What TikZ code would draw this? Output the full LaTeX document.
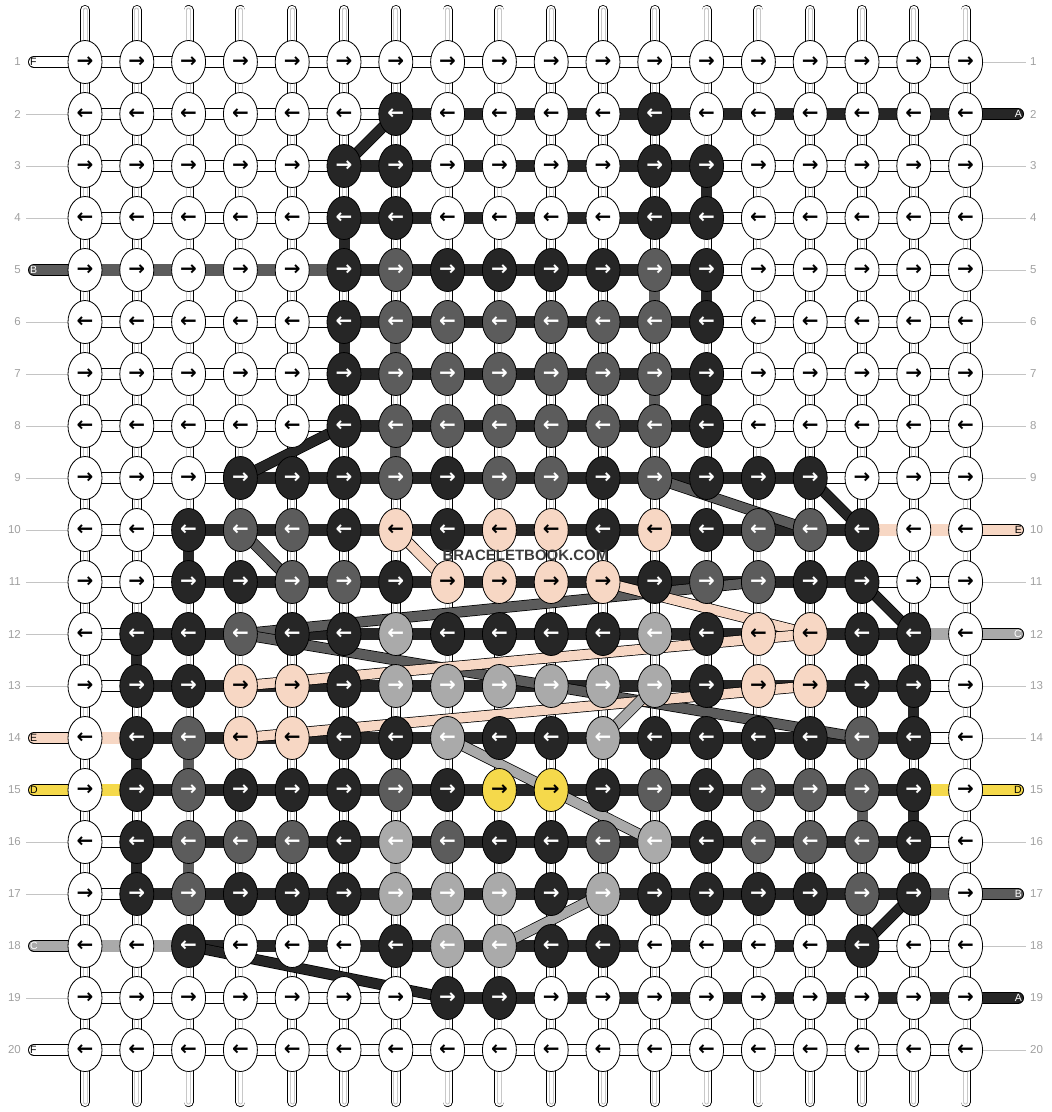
\documentclass[tikz,border=0pt]{standalone}
\usepackage{fontspec}
\setmainfont{Liberation Sans}
\newfontfamily\arrowfont{DejaVu Sans}
\usetikzlibrary{shapes.geometric}

\definecolor{colW}{HTML}{FFFFFF}
\definecolor{colK}{HTML}{262626}
\definecolor{colG}{HTML}{5C5C5C}
\definecolor{colL}{HTML}{AAAAAA}
\definecolor{colP}{HTML}{F7D7C4}
\definecolor{colY}{HTML}{F5D94B}
\definecolor{rownum}{HTML}{A0A0A0}
\definecolor{rowline}{HTML}{C4C4C4}
\definecolor{strandline}{HTML}{C8C8C8}
\definecolor{wmark}{HTML}{3C3C3C}

\pgfdeclarelayer{tubes}
\pgfdeclarelayer{bars}
\pgfsetlayers{tubes,bars,main}

\begin{document}
\begin{tikzpicture}[x=1pt, y=-1pt]

\tikzstyle{knot}=[draw, ellipse, line width=0.8pt, inner sep=0pt, minimum width=34pt, minimum height=43pt, font=\arrowfont\bfseries\fontsize{20}{20}\selectfont];
\tikzstyle{knotW}=[knot, fill=colW, text=black];
\tikzstyle{knotK}=[knot, fill=colK, text=white];
\tikzstyle{knotG}=[knot, fill=colG, text=white];
\tikzstyle{knotL}=[knot, fill=colL, text=white];
\tikzstyle{knotP}=[knot, fill=colP, text=black];
\tikzstyle{knotY}=[knot, fill=colY, text=black];
\tikzstyle{strand}=[line width=10pt, line cap=round, draw=black, postaction={draw=white, line width=8.4pt}, postaction={draw=strandline, line width=5pt}, postaction={draw=white, line width=3pt}];
\tikzstyle{rowtube}=[line width=12pt, draw=black, postaction={draw=white, line width=10.4pt}];
\tikzstyle{endtube}=[line width=12pt, line cap=round, draw=black];
\tikzstyle{bar}=[line width=11.5pt];
\tikzstyle{vbar}=[line width=11pt];
\tikzstyle{link}=[line width=9.5pt, preaction={draw=black, line width=11pt}];
\tikzstyle{rowno}=[text=rownum, font=\fontsize{11.5}{12}\selectfont, inner sep=0pt];
\tikzstyle{rowln}=[draw=rowline, line width=0.8pt];
\tikzstyle{endlabel}=[font=\fontsize{10.5}{11}\selectfont, inner sep=0pt];

\useasboundingbox (0,0) rectangle (1052,1112);

% knots, row by row
\foreach \r/\cols in {
  1/{W,W,W,W,W,W,W,W,W,W,W,W,W,W,W,W,W,W},
  2/{W,W,W,W,W,W,K,W,W,W,W,K,W,W,W,W,W,W},
  3/{W,W,W,W,W,K,K,W,W,W,W,K,K,W,W,W,W,W},
  4/{W,W,W,W,W,K,K,W,W,W,W,K,K,W,W,W,W,W},
  5/{W,W,W,W,W,K,G,K,K,K,K,G,K,W,W,W,W,W},
  6/{W,W,W,W,W,K,G,G,G,G,G,G,K,W,W,W,W,W},
  7/{W,W,W,W,W,K,G,G,G,G,G,G,K,W,W,W,W,W},
  8/{W,W,W,W,W,K,G,G,G,G,G,G,K,W,W,W,W,W},
  9/{W,W,W,K,K,K,G,K,G,G,K,G,K,K,K,W,W,W},
  10/{W,W,K,G,G,K,P,K,P,P,K,P,K,G,G,K,W,W},
  11/{W,W,K,K,G,G,K,P,P,P,P,K,G,G,K,K,W,W},
  12/{W,K,K,G,K,K,L,K,K,K,K,L,K,P,P,K,K,W},
  13/{W,K,K,P,P,K,L,L,L,L,L,L,K,P,P,K,K,W},
  14/{W,K,G,P,P,K,K,L,K,K,L,K,K,K,K,G,K,W},
  15/{W,K,G,K,K,K,G,K,Y,Y,K,G,K,G,G,G,K,W},
  16/{W,K,G,G,G,K,L,G,K,K,G,L,K,G,G,G,K,W},
  17/{W,K,G,K,K,K,L,L,L,K,L,K,K,K,K,G,K,W},
  18/{W,W,K,W,W,W,K,L,L,K,K,W,W,W,W,K,W,W},
  19/{W,W,W,W,W,W,W,K,K,W,W,W,W,W,W,W,W,W},
  20/{W,W,W,W,W,W,W,W,W,W,W,W,W,W,W,W,W,W}}{
  \foreach \kc [count=\c] in \cols {
    \ifodd\r \def\arr{→}\else \def\arr{←}\fi
    \node[knot\kc] (k-\r-\c) at ({85+(\c-1)*51.8}, {62+(\r-1)*52}) {\arr};
  }
}

\begin{pgfonlayer}{tubes}
% vertical strands
\foreach \c in {1,...,18} {
  \coordinate (top-\c) at ({85+(\c-1)*51.8}, 10);
  \coordinate (bot-\c) at ({85+(\c-1)*51.8}, 1102);
  \draw[strand] (top-\c) -- (bot-\c);
}
% white row threads
\foreach \r in {1,...,20}
  \draw[rowtube] (k-\r-1.center) -- (k-\r-18.center);
% thread ends, left
\foreach \r/\cl/\lb/\tc in {1/W/F/black, 5/G/B/white, 14/P/E/black, 15/Y/D/black, 18/L/C/white, 20/W/F/black} {
  \coordinate (lft-\r) at (34, {62+(\r-1)*52});
  \draw[endtube, postaction={draw=col\cl, line width=10.4pt}] (lft-\r) -- (k-\r-1.center);
  \node[endlabel, text=\tc, anchor=west] (lb-l-\r) at (30, {62+(\r-1)*52}) {\lb};
}
% thread ends, right
\foreach \r/\cl/\lb/\tc in {2/K/A/white, 10/P/E/black, 12/L/C/white, 15/Y/D/black, 17/G/B/white, 19/K/A/white} {
  \coordinate (rgt-\r) at (1018, {62+(\r-1)*52});
  \draw[endtube, postaction={draw=col\cl, line width=10.4pt}] (k-\r-18.center) -- (rgt-\r);
  \node[endlabel, text=\tc, anchor=east] (lb-r-\r) at (1022, {62+(\r-1)*52}) {\lb};
}
% row guide lines
\foreach \r in {2,3,4,6,7,8,9,10,11,12,13,16,17,19} {
  \coordinate (lln-\r) at (26, {62+(\r-1)*52});
  \draw[rowln] (lln-\r) -- (k-\r-1.center);
}
\foreach \r in {1,3,4,5,6,7,8,9,11,13,14,16,18,20} {
  \coordinate (rln-\r) at (1026, {62+(\r-1)*52});
  \draw[rowln] (k-\r-18.center) -- (rln-\r);
}
\end{pgfonlayer}

\begin{pgfonlayer}{bars}
% coloured runs along the rows
\foreach \r/\a/\b/\cl in {2/7/18/K, 3/6/13/K, 4/6/13/K, 5/1/6/G, 5/6/13/K, 6/6/13/K, 7/6/13/K, 8/6/13/K,
    9/4/15/K, 10/3/16/K, 10/16/18/P, 11/3/16/K, 12/2/17/K, 12/17/18/L, 13/2/17/K, 14/1/2/P, 14/2/17/K,
    15/1/2/Y, 15/2/17/K, 15/17/18/Y, 16/2/17/K, 17/2/17/K, 17/17/18/G, 18/1/3/L, 18/3/16/K, 19/8/18/K}
  \draw[bar, draw=col\cl] (k-\r-\a.center) -- (k-\r-\b.center);
% coloured turns between rows
\foreach \c/\ra/\rb/\cl in {13/3/4/K, 6/4/5/K, 13/5/6/K, 6/6/7/K, 13/7/8/K, 3/10/11/K, 2/12/13/K, 17/13/14/K,
    2/14/15/K, 17/15/16/K, 2/16/17/K, 12/5/6/G, 7/6/7/G, 12/7/8/G, 7/8/9/G, 3/14/15/G, 3/16/17/G,
    16/15/16/G, 7/16/17/L}
  \draw[vbar, draw=col\cl] (k-\ra-\c.center) -- (k-\rb-\c.center);
% carried threads
\foreach \ra/\ca/\rb/\cb/\cl in {9/12/10/15/G, 10/4/11/5/G, 12/4/11/14/G, 12/4/14/16/G,
    10/7/11/8/P, 11/11/12/15/P, 13/4/12/15/P, 14/4/13/15/P,
    14/11/13/12/L, 14/8/16/12/L, 17/11/18/9/L,
    2/7/3/6/K, 8/6/9/4/K, 9/15/10/16/K, 11/16/12/17/K, 17/17/18/16/K, 18/3/19/8/K}
  \draw[link, draw=col\cl] (k-\ra-\ca.center) -- (k-\rb-\cb.center);
\end{pgfonlayer}

% row numbers
\foreach \r in {1,...,20} {
  \node[rowno, anchor=east] (nl-\r) at (21, {62+(\r-1)*52}) {\r};
  \node[rowno, anchor=west] (nr-\r) at (1030, {62+(\r-1)*52}) {\r};
}

\node[text=wmark, font=\fontsize{15}{15}\selectfont\bfseries, inner sep=0pt] (brand) at (525.5, 555) {BRACELETBOOK.COM};

\end{tikzpicture}
\end{document}
